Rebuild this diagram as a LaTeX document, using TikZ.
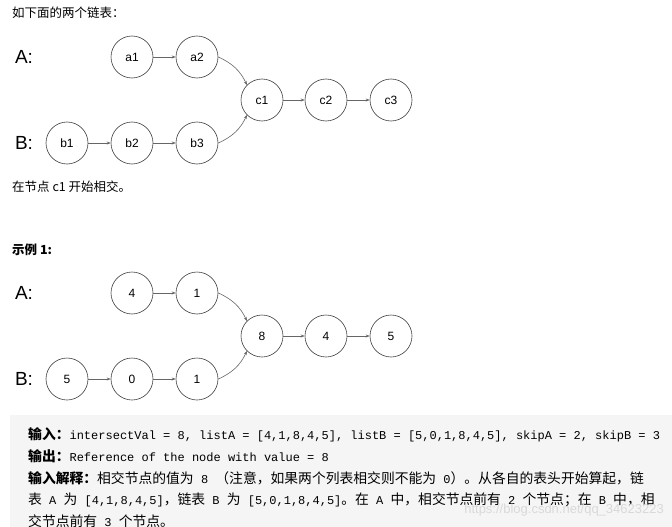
\documentclass[tikz,border=0pt]{standalone}
\usepackage{fontspec}
\setmainfont{Liberation Sans}
\newfontfamily\cjk{Noto Sans CJK SC}
\newfontfamily\mono{Liberation Mono}
\usetikzlibrary{arrows.meta}
\newcommand{\cj}[1]{{\cjk\fontsize{13.8}{15}\selectfont #1}}
\newcommand{\mo}[1]{{\mono\fontsize{12}{13}\selectfont #1}}
\begin{document}
\begin{tikzpicture}[x=1pt,y=-1pt,
  nd/.style={circle,draw=black!75,line width=0.6pt,minimum size=42pt,inner sep=0pt,font=\fontsize{12}{14}\selectfont},
  lbl/.style={font=\fontsize{19}{22}\selectfont},
  ar/.style={draw=black!60,line width=0.6pt,-{Stealth[length=4pt,width=3pt]}},
  txt/.style={anchor=west,inner sep=0pt,font=\cjk\fontsize{12.5}{14}\selectfont},
  code/.style={anchor=west,inner sep=0pt,font=\fontsize{11}{13}\selectfont}]
\useasboundingbox (0,0) rectangle (672,527);
\fill[fill=white] (0,0) rectangle (672,527);
\node[txt] (t1) at (12,13) {如下面的两个链表：};
% diagram 1
\node[lbl] (LA) at (24,57) {A:};
\node[lbl] (LB) at (24,143) {B:};
\node[nd] (a1) at (132,57) {a1};
\node[nd] (a2) at (197,57) {a2};
\node[nd] (c1) at (262,100) {c1};
\node[nd] (c2) at (326,100) {c2};
\node[nd] (c3) at (391,100) {c3};
\node[nd] (b1) at (67,143) {b1};
\node[nd] (b2) at (132,143) {b2};
\node[nd] (b3) at (197,143) {b3};
\draw[ar] (a1) -- (a2);
\draw[ar] (c1) -- (c2);
\draw[ar] (c2) -- (c3);
\draw[ar] (b1) -- (b2);
\draw[ar] (b2) -- (b3);
\draw[ar] (a2.east) to[bend left=20] (c1.north west);
\draw[ar] (b3.east) to[bend right=20] (c1.south west);
\node[txt] (t2) at (12,187) {在节点 c1 开始相交。};
\node[txt,font=\cjk\bfseries\fontsize{12.5}{14}\selectfont] (t3) at (12,250) {示例 1:};
% diagram 2
\node[lbl] (LA2) at (24,293) {A:};
\node[lbl] (LB2) at (24,379) {B:};
\node[nd] (x1) at (132,293) {4};
\node[nd] (x2) at (197,293) {1};
\node[nd] (y1) at (262,336) {8};
\node[nd] (y2) at (326,336) {4};
\node[nd] (y3) at (391,336) {5};
\node[nd] (z1) at (67,379) {5};
\node[nd] (z2) at (132,379) {0};
\node[nd] (z3) at (197,379) {1};
\draw[ar] (x1) -- (x2);
\draw[ar] (y1) -- (y2);
\draw[ar] (y2) -- (y3);
\draw[ar] (z1) -- (z2);
\draw[ar] (z2) -- (z3);
\draw[ar] (x2.east) to[bend left=20] (y1.north west);
\draw[ar] (z3.east) to[bend right=20] (y1.south west);
% box
\fill[fill=black!4] (10,415) rectangle (672,527);
\node[code] (l1) at (28,435) {{\cjk\bfseries\fontsize{13.8}{15}\selectfont 输入：}\mo{intersectVal = 8, listA = [4,1,8,4,5], listB = [5,0,1,8,4,5], skipA = 2, skipB = 3}};
\node[code] (l2) at (28,456) {{\cjk\bfseries\fontsize{13.8}{15}\selectfont 输出：}\mo{Reference of the node with value = 8}};
\node[code] (l3) at (28,478) {{\cjk\bfseries\fontsize{13.8}{15}\selectfont 输入解释：}\cj{相交节点的值为}\mo{\ 8\ }\cj{（注意，如果两个列表相交则不能为}\mo{\ 0}\cj{）。从各自的表头开始算起，链}};
\node[code] (l4) at (28,500) {\cj{表}\mo{\ A\ }\cj{为}\mo{\ [4,1,8,4,5]}\cj{，链表}\mo{\ B\ }\cj{为}\mo{\ [5,0,1,8,4,5]}\cj{。在}\mo{\ A\ }\cj{中，相交节点前有}\mo{\ 2\ }\cj{个节点；在}\mo{\ B\ }\cj{中，相}};
\node[code] (l5) at (28,521) {\cj{交节点前有}\mo{\ 3\ }\cj{个节点。}};
\node[anchor=east,inner sep=0pt,text=black!15,font=\fontsize{13}{15}\selectfont] (wm) at (664,510) {https://blog.csdn.net/qq\_34623223};
\end{tikzpicture}
\end{document}
